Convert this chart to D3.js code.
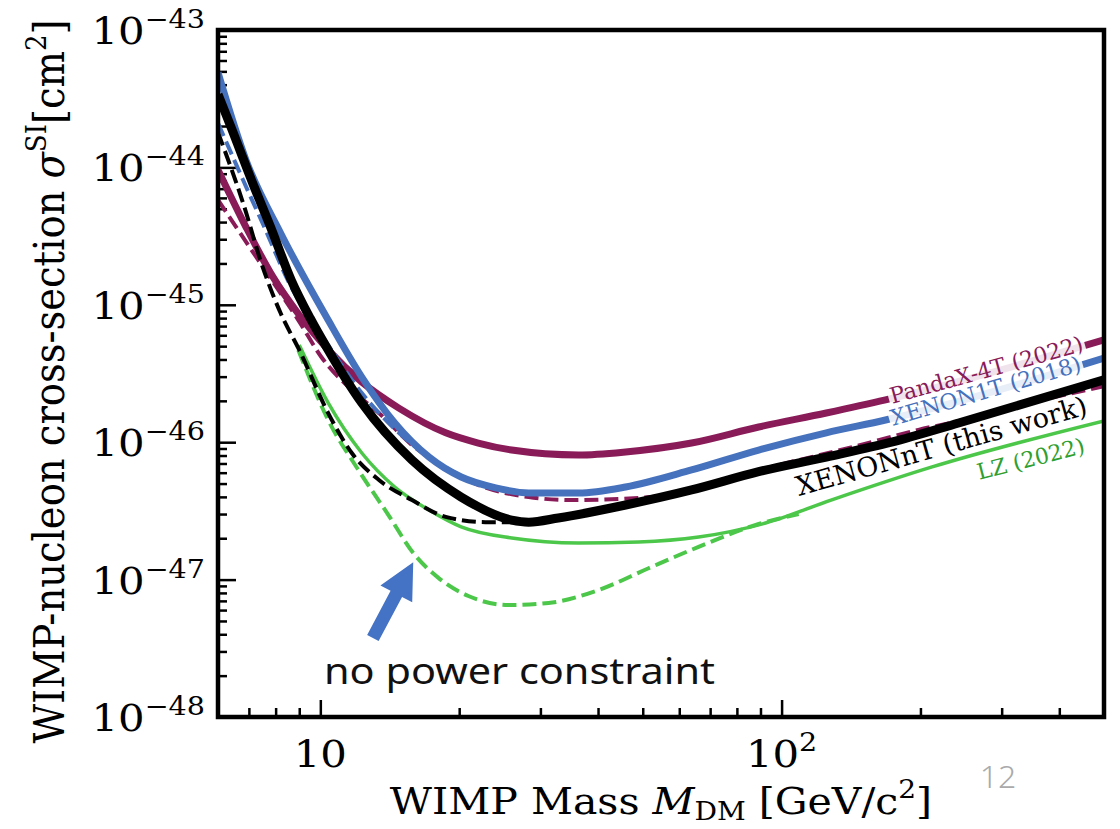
<!DOCTYPE html>
<html>
<head>
<meta charset="utf-8">
<script src="https://cdn.jsdelivr.net/npm/d3@7/dist/d3.min.js"></script>
<style>
body { margin: 0; background: #fff; }
</style>
</head>
<body>
<svg width="1120" height="829"></svg>
<script>
// ---- data (mass in GeV/c^2, cross-section in cm^2) ----
var massXnT = [6.0, 6.4, 7.16, 7.8, 8.65, 9.5, 10.4, 12.3, 15.8, 20.2, 26.0, 28.3, 32.8, 45.9, 63.8, 89.2, 125, 173, 242, 500];
var sigXnT = [3.4e-44, 1.97e-44, 7.45e-45, 3.68e-45, 1.51e-45, 8.02e-46, 4.69e-46, 1.93e-46, 7.41e-47, 3.99e-47, 2.71e-47, 2.62e-47, 2.81e-47, 3.49e-47, 4.49e-47, 6.1e-47, 7.8e-47, 1.0e-46, 1.38e-46, 2.84e-46];

var massXnTNoPc = [6.0, 6.8, 7.5, 8.2, 9.0, 10.4, 11.7, 13.4, 15.8, 18.7, 22.8, 27.6];
var sigXnTNoPc = [1.8e-44, 5.51e-45, 1.88e-45, 8.71e-46, 4.69e-46, 1.63e-46, 8.34e-47, 5.31e-47, 3.79e-47, 2.86e-47, 2.62e-47, 2.62e-47];

var massX1T = [6.0, 6.9, 8.2, 10.4, 12.3, 14.5, 17.2, 20.2, 24.0, 28.3, 36.3, 45.9, 63.8, 89.2, 125, 168, 500];
var sigX1T = [4.9e-44, 1.13e-44, 3.33e-45, 7.74e-46, 2.98e-46, 1.38e-46, 7.8e-47, 5.58e-47, 4.65e-47, 4.27e-47, 4.27e-47, 4.72e-47, 6.28e-47, 8.77e-47, 1.17e-46, 1.45e-46, 4.1e-46];

var massX1TNoPc = [6.0, 6.8, 7.56, 8.5, 10.4, 12.3, 14.8, 18.0, 21.0];
var sigX1TNoPc = [2.1e-44, 8.09e-45, 3.68e-45, 1.51e-45, 5.09e-46, 2.28e-46, 1.17e-46, 7.06e-47, 5.31e-47];

var massPandaX = [6.0, 6.9, 7.9, 9.0, 10.4, 12.3, 14.8, 18.7, 22.0, 26.0, 36.3, 45.9, 63.8, 89.2, 125, 168, 500];
var sigPandaX = [9.6e-45, 3.68e-45, 1.59e-45, 8.43e-46, 4.69e-46, 2.74e-46, 1.77e-46, 1.17e-46, 9.86e-47, 8.77e-47, 8.07e-47, 8.49e-47, 9.86e-47, 1.29e-46, 1.63e-46, 2.03e-46, 5.55e-46];

var massPandaXNoPc = [6.0, 6.57, 7.26, 8.19, 8.96, 10.05, 11.7, 13.4, 15.8, 18.7, 22.0, 28.3, 35.0, 52.2, 73.0, 98.5, 140, 198, 254, 311, 399, 500];
var sigPandaXNoPc = [5.8e-45, 3.68e-45, 2.23e-45, 1.22e-45, 7.74e-46, 4.17e-46, 2.4e-46, 1.63e-46, 9.55e-47, 6.49e-47, 4.89e-47, 3.99e-47, 3.79e-47, 3.99e-47, 5.22e-47, 6.82e-47, 9.08e-47, 1.23e-46, 1.48e-46, 1.8e-46, 2.17e-46, 2.56e-46];

var massLZ = [9.0, 10.4, 12.3, 14.5, 17.2, 20.2, 26.0, 36.3, 49.0, 66.1, 92.3, 128, 212, 500];
var sigLZ = [5.09e-46, 1.93e-46, 8.34e-47, 4.72e-47, 3.21e-47, 2.42e-47, 2.01e-47, 1.85e-47, 1.88e-47, 2.04e-47, 2.58e-47, 3.79e-47, 6.61e-47, 1.43e-46];

var massLZNoPc = [8.96, 10.4, 12.09, 14.05, 15.91, 18.03, 20.94, 25.57, 31.24, 40.09, 51.47, 66.07, 89.2, 108.9];
var sigLZNoPc = [4.69e-46, 1.45e-46, 6.28e-47, 2.95e-47, 1.56e-47, 1.03e-47, 7.6e-48, 6.53e-48, 6.76e-48, 8.39e-48, 1.21e-47, 1.73e-47, 2.54e-47, 3.0e-47];

// tick values
var xMajor = [10, 100];
var xMinor = [7, 8, 9, 20, 30, 40, 50, 60, 70, 80, 90, 200, 300, 400];
var yDecades = [-48, -47, -46, -45, -44, -43];

// labels on the curves: [text, mass, sigma, angle]
var labelText = ['PandaX-4T (2022)', 'XENON1T (2018)', 'XENONnT (this work)', 'LZ (2022)'];
var labelMass = [278, 277, 222, 347];
var labelSig = [3.35e-46, 2.36e-46, 9.4e-47, 7.55e-47];
var labelAngle = [-15.4, -16.2, -15.8, -14.3];

// arrow pointing at the no-power-constraint curve: [tail, tip]
var arrowMass = [13.0, 15.9];
var arrowSig = [3.76e-48, 1.34e-47];

// ---- layout ----
var svg = d3.select('svg');
var plot = {l: 218, r: 1104, t: 30, b: 717};
var stretch = 1.1; // the slide squeezes text a bit wider than tall

var purple = '#891b58', blue = '#4571bd', green = '#4cc74a', black = '#000';

var x = d3.scaleLog().domain([6, 500]).range([plot.l, plot.r]);
var y = d3.scaleLog().domain([1e-48, 1e-43]).range([plot.b, plot.t]);

svg.append('defs').append('clipPath').attr('id', 'clip')
  .append('rect')
  .attr('x', plot.l).attr('y', plot.t)
  .attr('width', plot.r - plot.l).attr('height', plot.b - plot.t);

// ticks (inward, like matplotlib direction='in')
function tickAxis(axis, tr) {
  var g = svg.append('g').attr('transform', tr).call(axis);
  g.select('.domain').remove();
  g.selectAll('line').attr('stroke', '#000').attr('stroke-width', 2.5);
  return g;
}
tickAxis(d3.axisBottom(x).tickValues(xMajor).tickSize(-17).tickFormat(''), 'translate(0,' + plot.b + ')');
tickAxis(d3.axisBottom(x).tickValues(xMinor).tickSize(-9).tickFormat(''), 'translate(0,' + plot.b + ')');

var yMinor = [];
yDecades.slice(0, -1).forEach(function(e) {
  for (var k = 2; k <= 9; k++) yMinor.push(k * Math.pow(10, e));
});
tickAxis(d3.axisLeft(y).tickValues(yDecades.map(function(e) { return Math.pow(10, e); })).tickSize(-18).tickFormat(''), 'translate(' + plot.l + ',0)');
tickAxis(d3.axisLeft(y).tickValues(yMinor).tickSize(-9).tickFormat(''), 'translate(' + plot.l + ',0)');

// curves
var series = [
  {m: massLZNoPc, s: sigLZNoPc, color: green, w: 4, dash: '14,6'},
  {m: massLZ, s: sigLZ, color: green, w: 3.5, dash: null},
  {m: massPandaXNoPc, s: sigPandaXNoPc, color: purple, w: 4, dash: '14,6'},
  {m: massPandaX, s: sigPandaX, color: purple, w: 7, dash: null},
  {m: massX1TNoPc, s: sigX1TNoPc, color: blue, w: 4, dash: '14,6'},
  {m: massX1T, s: sigX1T, color: blue, w: 7, dash: null},
  {m: massXnTNoPc, s: sigXnTNoPc, color: black, w: 4, dash: '14,6'},
  {m: massXnT, s: sigXnT, color: black, w: 9, dash: null}
];

var line = d3.line()
  .x(function(d) { return x(d[0]); })
  .y(function(d) { return y(d[1]); })
  .curve(d3.curveMonotoneX);

svg.append('g').attr('clip-path', 'url(#clip)')
  .selectAll('path')
  .data(series)
  .enter()
  .append('path')
  .attr('d', function(d) { return line(d3.zip(d.m, d.s)); })
  .attr('fill', 'none')
  .attr('stroke', function(d) { return d.color; })
  .attr('stroke-width', function(d) { return d.w; })
  .attr('stroke-dasharray', function(d) { return d.dash; })
  .attr('stroke-linejoin', 'round');

// curve labels
var labelColor = [purple, blue, '#000', '#2fa02f'];
var labelSize = [22, 22, 27, 22];
var labelBox = [true, true, false, false];
labelText.forEach(function(t, i) {
  var g = svg.append('g')
    .attr('transform', 'translate(' + x(labelMass[i]) + ',' + y(labelSig[i]) + ') rotate(' + labelAngle[i] + ')');
  var rect = g.append('rect');
  var txt = g.append('text')
    .attr('text-anchor', 'middle')
    .attr('dominant-baseline', 'central')
    .style('font-family', 'DejaVu Serif')
    .style('font-size', labelSize[i] + 'px')
    .attr('fill', labelColor[i])
    .text(t);
  if (labelBox[i]) {
    var bb = txt.node().getBBox();
    rect.attr('x', bb.x - 2).attr('y', bb.y + 2)
      .attr('width', bb.width + 4).attr('height', bb.height - 4)
      .attr('fill', '#fff').attr('fill-opacity', 0.88);
  } else {
    rect.remove();
  }
});

// frame
svg.append('rect')
  .attr('x', plot.l).attr('y', plot.t)
  .attr('width', plot.r - plot.l).attr('height', plot.b - plot.t)
  .attr('fill', 'none').attr('stroke', '#000').attr('stroke-width', 4.5);

// tick labels
var serif = 'DejaVu Serif';
function placed(px, py, anchor, sx) {
  return svg.append('text')
    .attr('transform', 'translate(' + px + ',' + py + ') scale(' + (sx || stretch) + ',1)')
    .attr('text-anchor', anchor)
    .style('font-family', serif).style('font-size', '38px');
}
yDecades.forEach(function(e) {
  var t = placed(205, y(Math.pow(10, e)) + 14, 'end');
  t.append('tspan').text('10');
  t.append('tspan').attr('dy', -16).style('font-size', '26px').text('\u2212' + (-e));
});

placed(x(10), 767, 'middle').text('10');
var t100 = placed(x(100), 767, 'middle');
t100.append('tspan').text('10');
t100.append('tspan').attr('dy', -16).style('font-size', '26px').text('2');

// axis titles
var xt = placed((plot.l + plot.r) / 2, 814, 'middle', 1.08);
xt.append('tspan').text('WIMP Mass ');
xt.append('tspan').style('font-style', 'italic').text('M');
xt.append('tspan').attr('dy', 6).style('font-size', '26px').text('DM');
xt.append('tspan').attr('dy', -6).text(' [GeV/c');
xt.append('tspan').attr('dy', -16).style('font-size', '26px').text('2');
xt.append('tspan').attr('dy', 16).text(']');

var yt = svg.append('text')
  .attr('transform', 'translate(64,' + ((plot.t + plot.b) / 2 + 8) + ') scale(' + stretch + ',1) rotate(-90)')
  .attr('text-anchor', 'middle')
  .style('font-family', serif).style('font-size', '38.5px');
yt.append('tspan').text('WIMP-nucleon cross-section ');
yt.append('tspan').style('font-style', 'italic').text('\u03c3');
yt.append('tspan').attr('dy', -16).style('font-size', '26px').text('SI');
yt.append('tspan').attr('dy', 16).text('[cm');
yt.append('tspan').attr('dy', -16).style('font-size', '26px').text('2');
yt.append('tspan').attr('dy', 16).text(']');

// arrow annotation
var tail = [x(arrowMass[0]), y(arrowSig[0])];
var tip = [x(arrowMass[1]), y(arrowSig[1])];
var dx = tip[0] - tail[0], dy = tip[1] - tail[1];
var len = Math.sqrt(dx * dx + dy * dy);
var u = [dx / len, dy / len], n = [-u[1], u[0]];
var headLen = 36, headW = 18, shaftW = 6.5;
var base = [tip[0] - u[0] * headLen, tip[1] - u[1] * headLen];
function pt(p, k) { return [p[0] + n[0] * k, p[1] + n[1] * k]; }
svg.append('path')
  .attr('d', d3.line()([pt(tail, shaftW), pt(base, shaftW), pt(base, headW), tip,
    pt(base, -headW), pt(base, -shaftW), pt(tail, -shaftW)]) + 'Z')
  .attr('fill', '#4472c4');

svg.append('text')
  .attr('transform', 'translate(324,684) scale(1.12,1)')
  .style('font-family', 'Noto Sans').style('font-size', '37px')
  .attr('fill', '#111')
  .text('no power constraint');

// slide page number
svg.append('text')
  .attr('x', 998).attr('y', 788)
  .attr('text-anchor', 'middle')
  .style('font-family', 'Noto Sans').style('font-size', '32px').style('font-weight', 300)
  .attr('fill', '#aaaaaa')
  .text('12');
</script>
</body>
</html>
